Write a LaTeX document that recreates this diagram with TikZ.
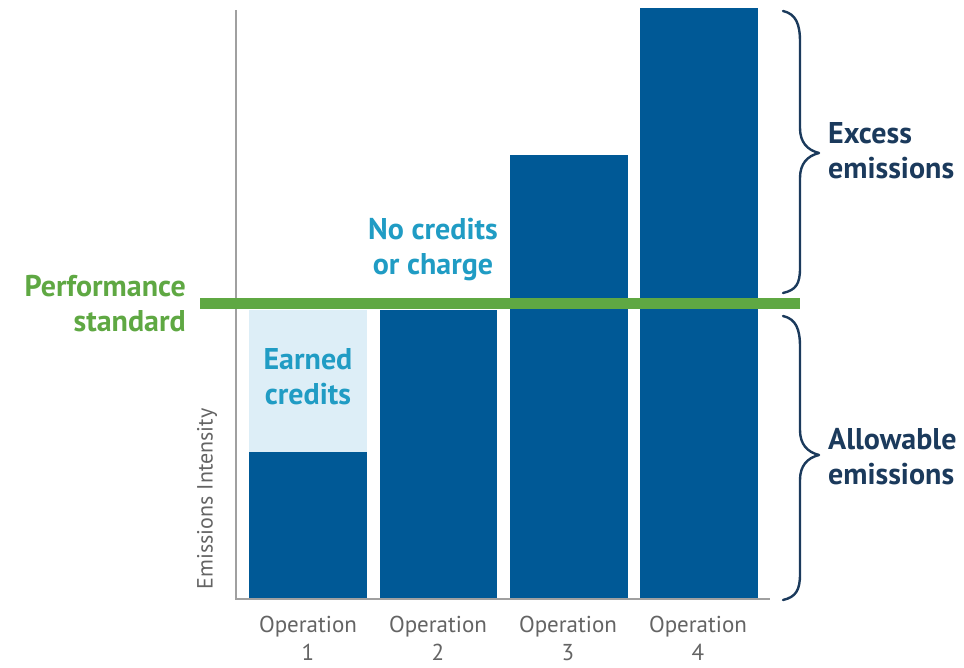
\documentclass[tikz,border=0pt]{standalone}
\usepackage{fontspec}
\setmainfont{PT Sans}
\definecolor{barblue}{RGB}{0,89,150}
\definecolor{lightblue}{RGB}{221,238,247}
\definecolor{stdgreen}{RGB}{95,168,67}
\definecolor{tealtext}{RGB}{32,156,196}
\definecolor{navytext}{RGB}{27,58,92}
\definecolor{axisgray}{RGB}{160,160,160}
\definecolor{labelgray}{RGB}{100,100,100}
\begin{document}
\begin{tikzpicture}[x=1pt,y=-1pt,
  bar/.style={fill=barblue,draw=none},
  biglabel/.style={font=\fontsize{30}{35}\selectfont\bfseries,align=center,inner sep=0pt},
  oplabel/.style={font=\fontsize{23}{28}\selectfont,text=labelgray,align=center,inner sep=0pt},
  bracestyle/.style={draw=navytext,line width=2.4pt,line cap=round,line join=round}]
\useasboundingbox (0,0) rectangle (964,668);
% light blue earned credits area
\fill[lightblue] (249,310) rectangle (367,452);
% bars
\fill[bar] (249,452) rectangle (367,598);
\fill[bar] (380,310) rectangle (497,598);
\fill[bar] (510,155) rectangle (628,598);
\fill[bar] (640,8) rectangle (758,598);
% axes
\coordinate (ytop) at (236,10);
\coordinate (origin) at (236,599);
\coordinate (xend) at (770,599);
\draw[axisgray,line width=2.2pt] (ytop) -- (origin) -- (xend);
% performance standard line
\coordinate (gl) at (200,304);
\coordinate (gr) at (800,304);
\draw[stdgreen,line width=11pt] (gl) -- (gr);
% braces
\draw[bracestyle] (783,11) .. controls (796,14) and (800,24) .. (800,42) -- (800,128)
  .. controls (800,142) and (807,150) .. (819,153)
  .. controls (807,156) and (800,164) .. (800,178) -- (800,268)
  .. controls (800,284) and (796,290) .. (783,293);
\draw[bracestyle] (783,316) .. controls (796,319) and (800,329) .. (800,347) -- (800,430)
  .. controls (800,444) and (807,452) .. (819,455)
  .. controls (807,458) and (800,466) .. (800,480) -- (800,574)
  .. controls (800,590) and (796,597) .. (783,600);
% labels
\node[biglabel,text=stdgreen,anchor=east,align=right] (perf) at (186,304) {Performance\\standard};
\node[biglabel,text=tealtext] (nocred) at (433,250) {No credits\\or charge};
\node[biglabel,text=tealtext] (earned) at (308,377) {Earned\\credits};
\node[biglabel,text=navytext,anchor=west,align=left] (excess) at (828,151) {Excess\\emissions};
\node[biglabel,text=navytext,anchor=west,align=left] (allow) at (828,457) {Allowable\\emissions};
\node[oplabel,rotate=90] (yl) at (207,499) {\fontsize{22}{26}\selectfont Emissions Intensity};
\node[oplabel] (op1) at (308,638) {Operation\\1};
\node[oplabel] (op2) at (438,638) {Operation\\2};
\node[oplabel] (op3) at (568,638) {Operation\\3};
\node[oplabel] (op4) at (698,638) {Operation\\4};
\end{tikzpicture}
\end{document}
